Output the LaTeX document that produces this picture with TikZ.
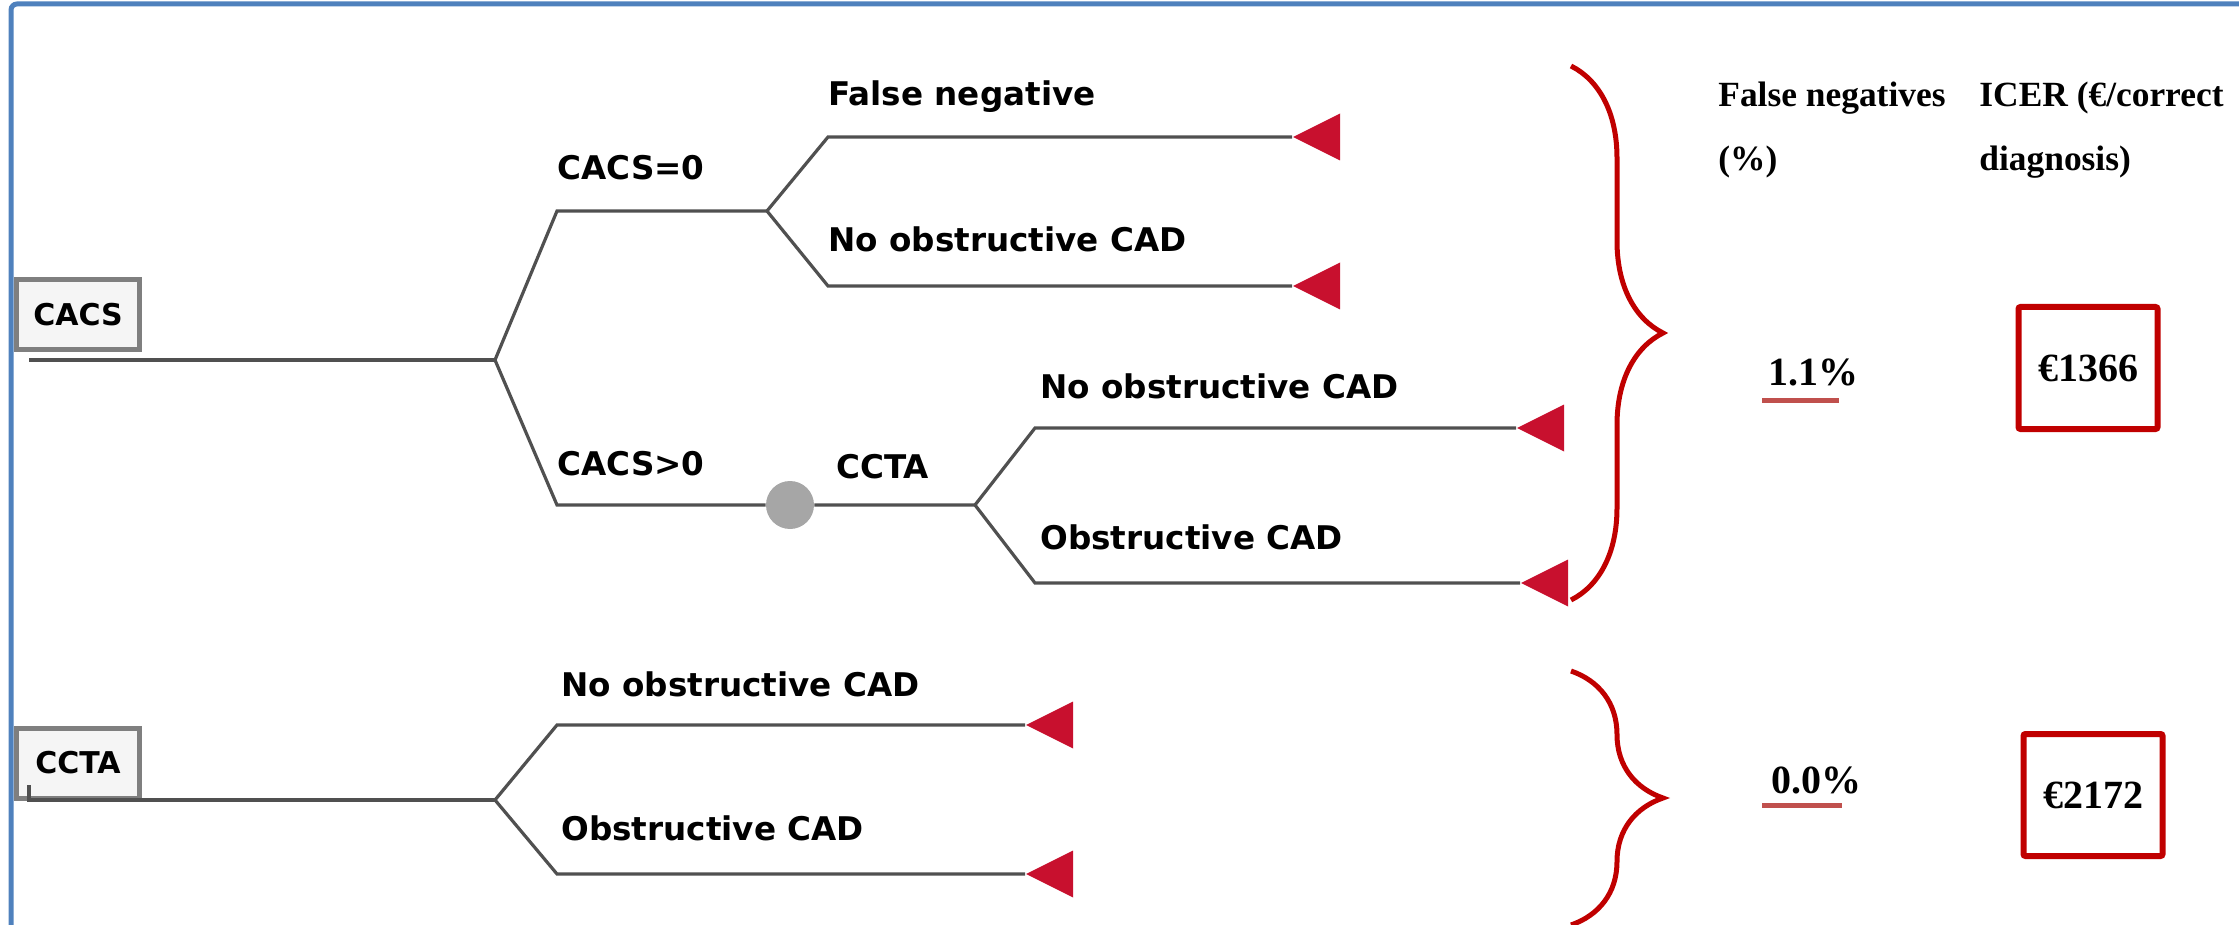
\documentclass[tikz,border=0pt]{standalone}
\usepackage{fontspec}
\setmainfont{Liberation Serif}
\newfontfamily\treefont{DejaVu Sans}
\usetikzlibrary{positioning,shapes.geometric,calc,decorations.pathreplacing}
\definecolor{FrameBlue}{HTML}{4F81BD}
\definecolor{TreeGray}{HTML}{505050}
\definecolor{EndRed}{HTML}{C8102E}
\definecolor{BraceRed}{HTML}{C00000}
\definecolor{LineRed}{HTML}{C0504D}
\definecolor{BoxGray}{HTML}{7F7F7F}
\definecolor{ChanceGray}{HTML}{A6A6A6}
\tikzset{
  branch/.style={TreeGray,line width=1.6pt},
  lbl/.style={font=\treefont\bfseries\fontsize{16.3}{19}\selectfont,anchor=base west,inner sep=0pt},
  rootbox/.style={draw=BoxGray,line width=2.5pt,fill=gray!8,minimum width=61.5pt,minimum height=35pt,inner sep=0pt,font=\treefont\bfseries\fontsize{15}{18}\selectfont},
  endtri/.style={isosceles triangle,isosceles triangle stretches,shape border rotate=180,fill=EndRed,minimum width=23.5pt,minimum height=23.5pt,inner sep=0pt,anchor=apex},
  chance/.style={circle,fill=ChanceGray,minimum size=24pt,inner sep=0pt},
  hdr/.style={font=\bfseries\fontsize{17.7}{32}\selectfont,align=left,anchor=north west,inner sep=0pt},
  val/.style={font=\bfseries\fontsize{20}{24}\selectfont,inner sep=0pt},
  icerbox/.style={val,draw=BraceRed,line width=3pt,rounded corners=1pt,minimum width=69.5pt,minimum height=61pt},
  uline/.style={LineRed,line width=2.5pt},
  curly/.style={BraceRed,line width=2.5pt,decorate,decoration={brace,amplitude=46pt}}
}
\begin{document}
\begin{tikzpicture}[x=0.5pt,y=-0.5pt]
  \useasboundingbox (0,0) rectangle (2239,925);
  \draw[FrameBlue,line width=2.5pt,rounded corners=3pt] (11,935) -- (11,4) -- (2250,4);

  % CACS first
  \node[rootbox] (cacs) at (78,315) {CACS};
  \coordinate (cacs start) at (29,360);
  \coordinate (cacs split) at (495,360);
  \coordinate (zero knee) at (557,211);
  \coordinate (zero split) at (767,211);
  \coordinate (pos knee) at (557,505);
  \node[chance] (ccta chance) at (790,505) {};
  \coordinate (ccta split) at (975,505);
  \coordinate (fn knee) at (828,137);
  \coordinate (neg knee) at (828,286);
  \coordinate (ccta no knee) at (1035,428);
  \coordinate (ccta ob knee) at (1035,583);
  \node[endtri] (fn end) at (1292,137) {};
  \node[endtri] (neg end) at (1292,286) {};
  \node[endtri] (ccta no end) at (1516,428) {};
  \node[endtri] (ccta ob end) at (1520,583) {};
  \draw[branch] (cacs start) -- (cacs split);
  \draw[branch] (cacs split) -- (zero knee) -- (zero split);
  \draw[branch] (cacs split) -- (pos knee) -- (ccta chance) -- (ccta split);
  \draw[branch] (zero split) -- (fn knee) -- (fn end.apex);
  \draw[branch] (zero split) -- (neg knee) -- (neg end.apex);
  \draw[branch] (ccta split) -- (ccta no knee) -- (ccta no end.apex);
  \draw[branch] (ccta split) -- (ccta ob knee) -- (ccta ob end.apex);
  \node[lbl] at (557,180) {CACS=0};
  \node[lbl] at (557,475) {CACS>0};
  \node[lbl] at (836,478) {CCTA};
  \node[lbl] at (828,106) {False negative};
  \node[lbl] at (828,252) {No obstructive CAD};
  \node[lbl] at (1040,399) {No obstructive CAD};
  \node[lbl] at (1040,549) {Obstructive CAD};

  % CCTA first
  \node[rootbox] (ccta) at (78,763) {CCTA};
  \coordinate (ccta start) at (29,785);
  \coordinate (ccta corner) at (29,800);
  \coordinate (ccta root split) at (495,800);
  \coordinate (no knee) at (557,725);
  \coordinate (ob knee) at (557,874);
  \node[endtri] (no end) at (1025,725) {};
  \node[endtri] (ob end) at (1025,874) {};
  \draw[branch] (ccta start) -- (ccta corner) -- (ccta root split);
  \draw[branch] (ccta root split) -- (no knee) -- (no end.apex);
  \draw[branch] (ccta root split) -- (ob knee) -- (ob end.apex);
  \node[lbl] at (561,696) {No obstructive CAD};
  \node[lbl] at (561,840) {Obstructive CAD};

  % braces and results
  \coordinate (big brace top) at (1571,66);
  \coordinate (big brace bot) at (1571,600);
  \coordinate (small brace top) at (1571,671);
  \coordinate (small brace bot) at (1571,925);
  \draw[curly] (big brace top) -- (big brace bot);
  \draw[curly] (small brace top) -- (small brace bot);
  \node[hdr] (fn head) at (1718,82) {False negatives\\(\%)};
  \node[hdr] (icer head) at (1979,82) {ICER (€/correct\\diagnosis)};
  \node[val,anchor=base west] (fn cacs) at (1768,386) {1.1\%};
  \draw[uline] ([xshift=-3pt,yshift=-7pt]fn cacs.base west) -- ++(77,0);
  \node[icerbox] (icer cacs) at (2088,368) {€1366};
  \node[val,anchor=base west] (fn ccta) at (1771,793) {0.0\%};
  \draw[uline] ([xshift=-4.5pt,yshift=-6pt]fn ccta.base west) -- ++(80,0);
  \node[icerbox] (icer ccta) at (2093,795) {€2172};
\end{tikzpicture}
\end{document}
